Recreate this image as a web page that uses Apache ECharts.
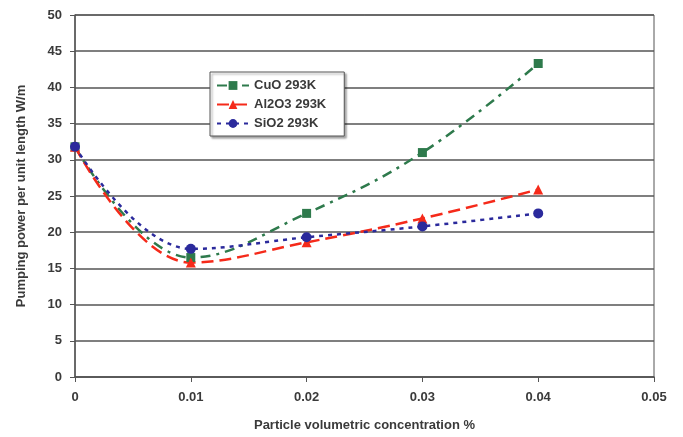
<!DOCTYPE html>
<html>
<head>
<meta charset="utf-8">
<script src="https://cdn.jsdelivr.net/npm/echarts@6/dist/echarts.min.js"></script>
<style>html,body{margin:0;padding:0;background:#fff;}#c{width:683px;height:437px;}</style>
</head>
<body>
<div id="c"></div>
<script>
var xValues = [0, 0.01, 0.02, 0.03, 0.04];
var cuo = [31.8, 16.5, 22.6, 31.0, 43.3];
var al2o3 = [31.8, 15.8, 18.6, 21.9, 25.9];
var sio2 = [31.8, 17.7, 19.3, 20.8, 22.6];
var seriesNames = ['CuO 293K', 'Al2O3 293K', 'SiO2 293K'];

function pairs(vals){ return xValues.map(function(x,i){ return [x, vals[i]]; }); }

var chart = echarts.init(document.getElementById('c'));
var font = 'Liberation Sans, Arial, sans-serif';
var txt = '#3a3a3a';
chart.setOption({
  animation: false,
  backgroundColor: '#fff',
  grid: {left: 75, right: 29, top: 15, bottom: 59, show: true, borderColor: '#555', borderWidth: 1},
  legend: {
    left: 210, top: 72, orient: 'vertical',
    backgroundColor: '#fff', borderColor: '#555', borderWidth: 1,
    shadowColor: 'rgba(0,0,0,0.35)', shadowOffsetX: 2, shadowOffsetY: 2, shadowBlur: 2,
    padding: [7, 18, 6, 6], itemGap: 6, itemWidth: 32, itemHeight: 11,
    textStyle: {fontFamily: font, fontWeight: 'bold', fontSize: 13, color: txt},
    data: seriesNames
  },
  xAxis: {
    type: 'value', min: 0, max: 0.05, interval: 0.01,
    name: 'Particle volumetric concentration %', nameLocation: 'middle', nameGap: 42,
    nameTextStyle: {fontFamily: font, fontWeight: 'bold', fontSize: 13, color: txt},
    axisLine: {show: true, lineStyle: {color: '#555', width: 1.5}},
    axisTick: {show: true, inside: false, length: 5, lineStyle: {color: '#555'}},
    axisLabel: {fontFamily: font, fontWeight: 'bold', fontSize: 13, color: txt, margin: 14,
      formatter: function(v){ return v === 0 ? '0' : v.toFixed(2); }},
    splitLine: {show: false}
  },
  yAxis: {
    type: 'value', min: 0, max: 50, interval: 5,
    name: 'Pumping power per unit length W/m', nameLocation: 'middle', nameGap: 47,
    nameTextStyle: {fontFamily: font, fontWeight: 'bold', fontSize: 13, color: txt},
    axisLine: {show: true, lineStyle: {color: '#555', width: 1.5}},
    axisTick: {show: true, inside: false, length: 5, lineStyle: {color: '#555'}},
    axisLabel: {fontFamily: font, fontWeight: 'bold', fontSize: 13, color: txt, margin: 13},
    splitLine: {show: true, lineStyle: {color: '#555', width: 1.5}}
  },
  series: [
    {
      name: seriesNames[0], type: 'line', data: pairs(cuo), smooth: 0.4,
      symbol: 'rect', symbolSize: 9, color: '#2e7a4c',
      lineStyle: {width: 2.5, type: [10, 6, 3, 6], color: '#2e7a4c'},
      itemStyle: {color: '#2e7a4c'}
    },
    {
      name: seriesNames[1], type: 'line', data: pairs(al2o3), smooth: 0.4,
      symbol: 'triangle', symbolSize: 10, color: '#f52a1a',
      lineStyle: {width: 2.5, type: [12, 6], color: '#f52a1a'},
      itemStyle: {color: '#f52a1a'}
    },
    {
      name: seriesNames[2], type: 'line', data: pairs(sio2), smooth: 0.4,
      symbol: 'circle', symbolSize: 10, color: '#2b2a9c',
      lineStyle: {width: 2.5, type: [4, 5], color: '#2b2a9c'},
      itemStyle: {color: '#2b2a9c'}
    }
  ]
});
</script>
</body>
</html>
